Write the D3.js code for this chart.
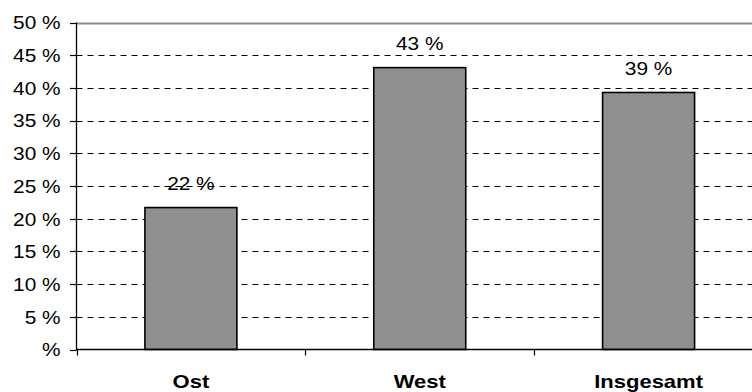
<!DOCTYPE html>
<html>
<head>
<meta charset="utf-8">
<script src="https://cdn.jsdelivr.net/npm/d3@7"></script>
<style>
  html, body { margin: 0; padding: 0; background: #fff; }
  svg { display: block; }
  text { font-family: "Liberation Sans", Arial, sans-serif; fill: #000; }
</style>
</head>
<body>
<svg id="chart" width="752" height="392"></svg>
<script>
// Anteile je Region (Prozent)
const categories = ["Ost", "West", "Insgesamt"];
const values = [21.7, 43.1, 39.3];
const valueLabels = ["22 %", "43 %", "39 %"];
const yTicks = [0, 5, 10, 15, 20, 25, 30, 35, 40, 45, 50];
const yTickLabels = ["%", "5 %", "10 %", "15 %", "20 %", "25 %", "30 %", "35 %", "40 %", "45 %", "50 %"];

const W = 752, H = 392;
const plot = { left: 76.5, right: 763, top: 22.5, bottom: 349.5 };
const stretch = 1.19; // wide text face

const svg = d3.select("#chart");

const x = d3.scaleBand()
  .domain(categories)
  .range([plot.left, plot.right])
  .paddingInner(0.598)
  .paddingOuter(0.299);

const y = d3.scaleLinear()
  .domain([0, 50])
  .range([plot.bottom, plot.top]);

// horizontal grid lines
svg.append("g")
  .selectAll("line")
  .data(yTicks.filter(t => t > 0))
  .join("line")
  .attr("x1", plot.left)
  .attr("x2", W)
  .attr("y1", d => Math.round(y(d)) + 0.5)
  .attr("y2", d => Math.round(y(d)) + 0.5)
  .attr("stroke", d => d === 50 ? "#8a8a8a" : "#000")
  .attr("stroke-width", d => d === 50 ? 2 : 1)
  .attr("stroke-dasharray", d => d === 50 ? null : "6,5");

// bars
svg.append("g")
  .selectAll("rect")
  .data(categories)
  .join("rect")
  .attr("x", d => x(d))
  .attr("width", x.bandwidth())
  .attr("y", (d, i) => y(values[i]))
  .attr("height", (d, i) => y(0) - y(values[i]))
  .attr("fill", "#8f8f8f")
  .attr("stroke", "#000")
  .attr("stroke-width", 1.6);

// value labels
svg.append("g")
  .selectAll("text")
  .data(categories)
  .join("text")
  .attr("transform", (d, i) => `translate(${x(d) + x.bandwidth() / 2},${y(values[i]) - 17.5}) scale(${stretch},1)`)
  .attr("text-anchor", "middle")
  .attr("font-size", 17.5)
  .text((d, i) => valueLabels[i]);

// y axis
const yAxis = svg.append("g");
yAxis.append("line")
  .attr("x1", plot.left).attr("x2", plot.left)
  .attr("y1", plot.top).attr("y2", plot.bottom + 0.5)
  .attr("stroke", "#000").attr("stroke-width", 1.3);
yAxis.selectAll("line.tick")
  .data(yTicks)
  .join("line")
  .attr("class", "tick")
  .attr("x1", 70).attr("x2", plot.left)
  .attr("y1", d => Math.round(y(d)) + 0.5)
  .attr("y2", d => Math.round(y(d)) + 0.5)
  .attr("stroke", "#000").attr("stroke-width", 1.2);
yAxis.selectAll("text")
  .data(yTicks)
  .join("text")
  .attr("transform", d => `translate(60.5,${y(d) + 6.8}) scale(${stretch},1)`)
  .attr("text-anchor", "end")
  .attr("font-size", 17.5)
  .text((d, i) => yTickLabels[i]);

// x axis
const xAxis = svg.append("g");
xAxis.append("line")
  .attr("x1", plot.left).attr("x2", W)
  .attr("y1", plot.bottom).attr("y2", plot.bottom)
  .attr("stroke", "#000").attr("stroke-width", 1.3);
const bounds = [0, 1, 2].map(i => plot.left + i * x.step());
xAxis.selectAll("line.tick")
  .data(bounds)
  .join("line")
  .attr("class", "tick")
  .attr("x1", d => Math.round(d) + 0.5).attr("x2", d => Math.round(d) + 0.5)
  .attr("y1", plot.bottom).attr("y2", plot.bottom + 6)
  .attr("stroke", "#000").attr("stroke-width", 1.2);
xAxis.selectAll("text")
  .data(categories)
  .join("text")
  .attr("transform", d => `translate(${x(d) + x.bandwidth() / 2},388) scale(${stretch},1)`)
  .attr("text-anchor", "middle")
  .attr("font-size", 18.5)
  .attr("font-weight", "bold")
  .text(d => d);
</script>
</body>
</html>
